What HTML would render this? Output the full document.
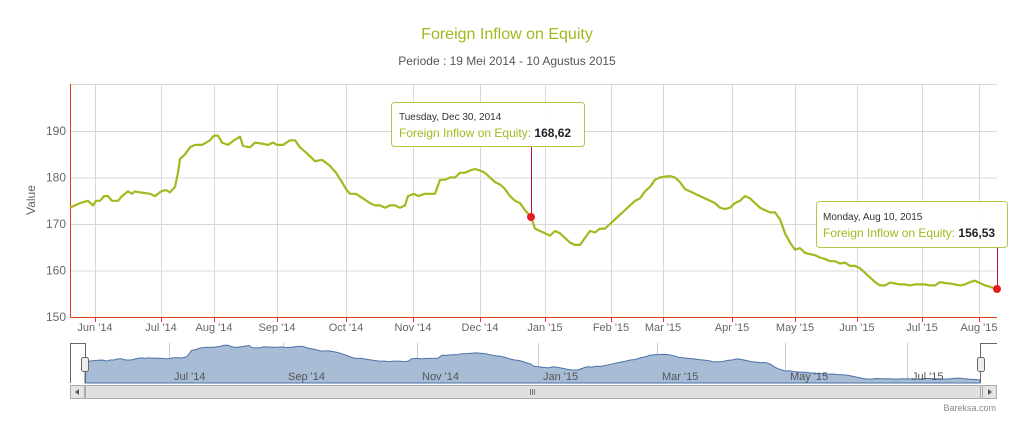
<!DOCTYPE html><html><head><meta charset="utf-8"><style>
body{margin:0;background:#fff;font-family:"Liberation Sans","DejaVu Sans",sans-serif}
svg text{font-family:"Liberation Sans","DejaVu Sans",sans-serif}
</style></head><body>
<svg id="s" width="1022" height="421" xmlns="http://www.w3.org/2000/svg">
<text x="507" y="39" text-anchor="middle" font-size="16" fill="#a4b81f">Foreign Inflow on Equity</text>
<text x="507" y="65" text-anchor="middle" font-size="12" fill="#555">Periode : 19 Mei 2014 - 10 Agustus 2015</text>
<g id="grid" stroke="#d8d8d8" stroke-width="1"></g>
<text transform="translate(35,200) rotate(-90)" text-anchor="middle" font-size="12" fill="#666">Value</text>
<g id="yl" font-size="12" fill="#666" text-anchor="end"></g>
<g id="xl" font-size="11" fill="#666" text-anchor="middle"></g>
<line x1="70.5" y1="84" x2="70.5" y2="317" stroke="#d9401c"/>
<line x1="70" y1="317.5" x2="997" y2="317.5" stroke="#d9401c"/>
<polyline id="ln" fill="none" stroke="#a4b81f" stroke-width="2.2" stroke-linejoin="round"/>
<line x1="531.5" y1="146" x2="531.5" y2="217" stroke="#c0142e"/>
<line x1="997.5" y1="247" x2="997.5" y2="289" stroke="#c0142e"/>
<circle cx="531" cy="217" r="4" fill="#e81d23"/>
<circle cx="997" cy="289" r="4" fill="#e81d23"/>
<g id="nav"></g>
<rect x="391.5" y="102.5" width="193" height="44" rx="3" fill="#fff" fill-opacity=".93" stroke="#b7c548"/>
<text x="399" y="120" font-size="10" fill="#333">Tuesday, Dec 30, 2014</text>
<text x="399" y="137" font-size="12" fill="#a4b81f">Foreign Inflow on Equity: <tspan fill="#222" font-weight="bold">168,62</tspan></text>
<rect x="816.5" y="201.5" width="191" height="46" rx="3" fill="#fff" fill-opacity=".93" stroke="#b7c548"/>
<text x="823" y="220" font-size="10" fill="#333">Monday, Aug 10, 2015</text>
<text x="823" y="237" font-size="12" fill="#a4b81f">Foreign Inflow on Equity: <tspan fill="#222" font-weight="bold">156,53</tspan></text>
<text x="996" y="411" text-anchor="end" font-size="9" fill="#888">Bareksa.com</text>
</svg>
<script>
var d=[70,173.5,75,174,80,174.5,88,175,93,174,96,175,100,175,104,176,108,176,112,175,118,175,122,176,128,177,132,176.5,135,177,140,176.8,150,176.5,155,176,161,177,166,177.3,170,176.8,175,178,178,181,180,184,185,185,190,186.5,195,187,202,187,210,188,214,189,218,189,222,187.5,228,187,234,188,240,188.8,243,186.8,250,186.5,255,187.5,262,187.3,268,187,273,187.5,277,187,283,187,290,188,295,188,300,186.5,308,185,315,183.5,322,183.8,330,182.5,336,181,342,179,346,177.5,350,176.5,356,176.5,363,175.5,370,174.5,375,174,380,174,385,173.5,390,174,395,174,400,173.5,405,174,408,176,414,176.5,418,176,425,176.5,430,176.5,435,176.5,440,179.5,445,179.5,450,180,455,180,460,181,465,181,470,181.5,475,181.8,480,181.5,485,181,490,180,495,179,500,178.5,505,177.5,510,176,515,175,520,174.5,525,173,531,171.5,535,169,540,168.5,545,168,550,167.5,555,168.5,560,168,565,167,570,166,575,165.5,580,165.5,585,167,590,168.5,595,168.2,600,169,605,169,610,170,615,171,620,172,625,173,630,174,635,175,640,175.5,645,177,650,178,655,179.5,660,180,665,180.2,670,180.3,675,180,680,179,685,177.5,690,177,695,176.5,700,176,705,175.5,710,175,715,174.5,720,173.5,725,173.2,730,173.5,735,174.5,740,175,745,176,750,175.5,755,174.5,760,173.5,765,173,770,172.5,775,172.5,780,171,785,168,790,166,795,164.5,800,164.8,805,163.8,810,163.5,815,163.3,820,162.8,825,162.5,830,162,835,162,840,161.5,845,161.7,850,161,855,161,860,160.5,865,159.5,870,158.5,875,157.5,880,156.8,885,156.8,890,157.4,895,157.2,900,157,905,157,910,156.8,915,157,920,157,925,157,930,156.8,935,156.8,940,157.5,945,157.3,950,157.2,955,157,960,156.8,965,157,970,157.5,975,157.8,980,157.3,985,156.8,990,156.5,997,156];
var Y=v=>317-(v-150)*4.65,p=[],np=[];
for(var i=0;i<d.length;i+=2){p.push(d[i]+','+Y(d[i+1]).toFixed(1));np.push((85+(d[i]-70)*895/927).toFixed(1)+','+(381-(d[i+1]-155)*1.05).toFixed(1));}
document.getElementById('ln').setAttribute('points',p.join(' '));
var g='',yl='',xl='';
[150,160,170,180,190].forEach(v=>{var y=Y(v);g+=`<line x1="70" y1="${y+.5}" x2="997" y2="${y+.5}"/>`;yl+=`<text x="66" y="${y+4}">${v}</text>`});
g+=`<line x1="70" y1="84.5" x2="997" y2="84.5"/>`;
[[95,"Jun '14"],[161,"Jul '14"],[214,"Aug '14"],[277,"Sep '14"],[346,"Oct '14"],[413,"Nov '14"],[480,"Dec '14"],[545,"Jan '15"],[611,"Feb '15"],[663,"Mar '15"],[732,"Apr '15"],[795,"May '15"],[857,"Jun '15"],[922,"Jul '15"],[979,"Aug '15"]].forEach(a=>{g+=`<line x1="${a[0]+.5}" y1="84" x2="${a[0]+.5}" y2="317"/><line x1="${a[0]+.5}" y1="317" x2="${a[0]+.5}" y2="322" stroke="#d9401c"/>`;xl+=`<text x="${a[0]}" y="331">${a[1]}</text>`});
document.getElementById('grid').innerHTML=g;document.getElementById('yl').innerHTML=yl;document.getElementById('xl').innerHTML=xl;
var n=`<rect x="70" y="343" width="927" height="40" fill="#fff"/>`;
[[174,"Jul '14"],[288,"Sep '14"],[422,"Nov '14"],[543,"Jan '15"],[662,"Mar '15"],[790,"May '15"],[912,"Jul '15"]].forEach(a=>{n+=`<line x1="${a[0]-4.5}" y1="343" x2="${a[0]-4.5}" y2="383" stroke="#ccc"/>`});
n+=`<polygon points="85,383 ${np.join(' ')} 980,383" fill="#a8bcd6" stroke="#4a72a8" stroke-width="1"/>`;
[[174,"Jul '14"],[288,"Sep '14"],[422,"Nov '14"],[543,"Jan '15"],[662,"Mar '15"],[790,"May '15"],[912,"Jul '15"]].forEach(a=>{n+=`<text x="${a[0]}" y="380" font-size="11" fill="#555">${a[1]}</text>`});
n+=`<path d="M70.5,383 V343.5 H85.5 V383 M980.5,383 V343.5 H997" fill="none" stroke="#666"/>`;
n+=`<rect x="81.5" y="357.5" width="7" height="14" rx="2" fill="#eee" stroke="#666"/><rect x="977.5" y="357.5" width="7" height="14" rx="2" fill="#eee" stroke="#666"/>`;
n+=`<rect x="70.5" y="385.5" width="926" height="13" fill="#eee" stroke="#bbb"/><rect x="85.5" y="385.5" width="895" height="13" fill="#e0e0e0" stroke="#aaa"/>`;
n+=`<rect x="70.5" y="385.5" width="14" height="13" fill="#e4e4e4" stroke="#aaa"/><rect x="982.5" y="385.5" width="14" height="13" fill="#e4e4e4" stroke="#aaa"/>`;
n+=`<path d="M79,389 L75,392 L79,395Z M988,389 L992,392 L988,395Z" fill="#555"/><path d="M530.5,389v6M532.5,389v6M534.5,389v6" stroke="#777"/>`;
document.getElementById('nav').innerHTML=n;
</script>
</body></html>
